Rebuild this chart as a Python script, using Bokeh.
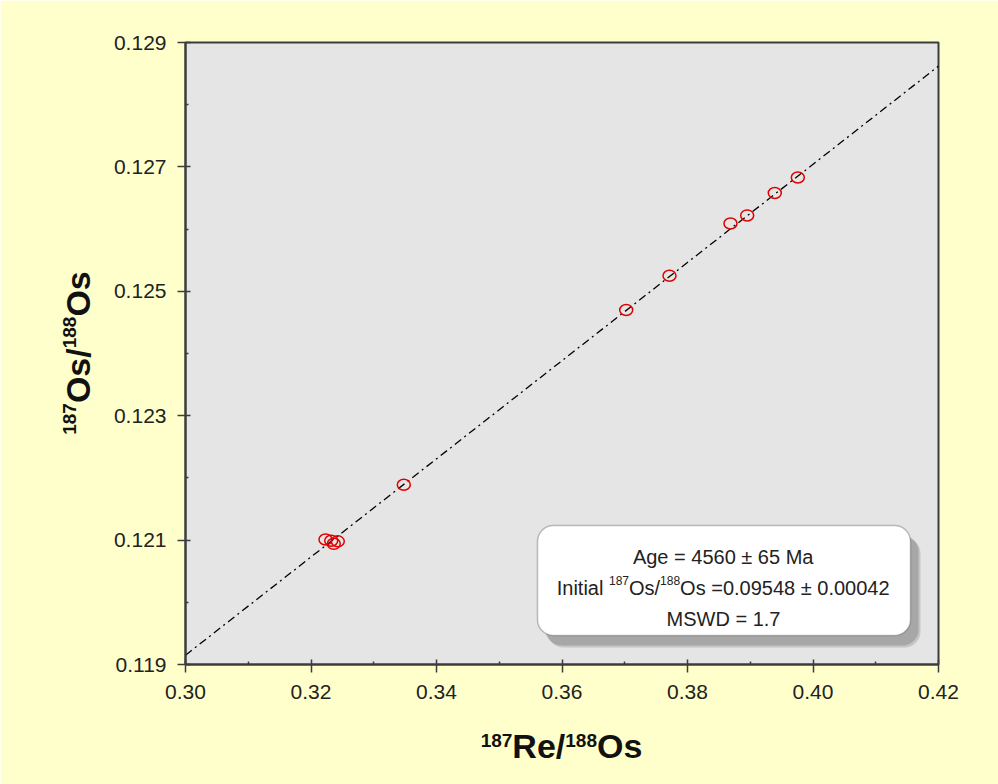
import math
from bokeh.plotting import figure
from bokeh.models import (Range1d, FixedTicker, NumeralTickFormatter,
                          BoxAnnotation, Label, LinearAxis)
from bokeh.embed import file_html
from bokeh.resources import INLINE

# ---- data ----
re_os = [0.32231, 0.32322, 0.32363, 0.32427, 0.33479, 0.37023, 0.37713,
         0.38685, 0.38951, 0.39391, 0.39758]
os_os = [0.12101, 0.12099, 0.12094, 0.12098, 0.12189, 0.12470, 0.12525,
         0.12609, 0.12622, 0.12658, 0.12683]
line_x = [0.30, 0.42]
line_y = [0.11915, 0.12862]
x_ticks = [0.30, 0.32, 0.34, 0.36, 0.38, 0.40, 0.42]
x_minor = [0.31, 0.33, 0.35, 0.37, 0.39, 0.41]
y_ticks = [0.119, 0.121, 0.123, 0.125, 0.127, 0.129]
y_minor = [0.120, 0.122, 0.124, 0.126, 0.128]
x_range = (0.30, 0.42)
y_range = (0.119, 0.129)
# axis titles as (text, is_superscript) runs
x_title = [("187", True), ("Re/", False), ("188", True), ("Os", False)]
y_title = [("187", True), ("Os/", False), ("188", True), ("Os", False)]

FONT = "Liberation Sans"
W, H = 998, 784
FL, FR, FT, FB = 185, 60, 42, 120   # borders around frame
FW, FH = W - FL - FR, H - FT - FB

p = figure(width=W, height=H, output_backend="svg", toolbar_location=None,
           x_range=Range1d(*x_range), y_range=Range1d(*y_range),
           min_border_left=FL, min_border_right=FR,
           min_border_top=FT, min_border_bottom=FB)
p.background_fill_color = "#E5E5E5"
p.border_fill_color = "#FFFFCC"
p.outline_line_color = "#3C3C3C"
p.outline_line_width = 2
p.grid.visible = False

p.xaxis.ticker = FixedTicker(ticks=x_ticks, minor_ticks=x_minor)
p.yaxis.ticker = FixedTicker(ticks=y_ticks, minor_ticks=y_minor)
p.xaxis.formatter = NumeralTickFormatter(format="0.00")
p.yaxis.formatter = NumeralTickFormatter(format="0.000")
for ax in (p.xaxis, p.yaxis):
    ax.axis_line_color = "#3C3C3C"
    ax.axis_line_width = 2
    ax.major_tick_line_color = "#3C3C3C"
    ax.minor_tick_line_color = "#3C3C3C"
    ax.major_tick_line_width = 1.5
    ax.minor_tick_line_width = 1.5
    ax.major_tick_in = 5
    ax.major_tick_out = 8
    ax.minor_tick_in = 3
    ax.minor_tick_out = 0
    ax.major_label_text_font = FONT
    ax.major_label_text_font_size = "21px"
    ax.major_label_text_color = "#222222"
p.xaxis.major_label_standoff = 12
p.yaxis.major_label_standoff = 11

p.line(line_x, line_y, line_color="black", line_width=1.3, line_dash="8 4 2 4")
p.ellipse(re_os, os_os, width=13, height=11, width_units="screen",
          height_units="screen", fill_color=None, line_color="#E00000",
          line_width=1.5)


# page px -> frame screen coords / data coords
def sx(px):
    return px - FL


def sy(py):
    return (FT + FH) - py


def dx(px):
    return round(x_range[0] + sx(px) / FW * (x_range[1] - x_range[0]), 6)


def dy(py):
    return round(y_range[0] + sy(py) / FH * (y_range[1] - y_range[0]), 7)


# text box with shadow
for off, col, a in [((10, 12), "#8a8a8a", 0.35), ((8, 10), "#8a8a8a", 0.5)]:
    p.add_layout(BoxAnnotation(left=dx(537 + off[0]), right=dx(910 + off[0]),
                               top=dy(525 + off[1]), bottom=dy(635 + off[1]),
                               fill_color=col, fill_alpha=a, line_color=None,
                               border_radius=16))
p.add_layout(BoxAnnotation(left=dx(537), right=dx(910), top=dy(525), bottom=dy(635),
                           fill_color="white", fill_alpha=1.0, line_color="#333333",
                           line_width=1.5, border_radius=16))

REG = {' ': 278, '.': 278, '/': 278, '=': 584, '±': 584, 'A': 667, 'M': 833,
       'S': 667, 'W': 944, 'D': 722, 'O': 778, 'I': 278, 'g': 556, 'e': 556,
       'a': 556, 'n': 556, 'i': 222, 't': 278, 'l': 222, 's': 500, 'R': 722}
BOLD = {' ': 278, '.': 278, '/': 278, 'R': 722, 'e': 556, 'O': 778, 's': 556}


def tw(s, size, bold=False):
    t = BOLD if bold else REG
    return sum(t.get(c, 556) for c in s) * size / 1000.0


def run(pieces, cx, base, color="#222222"):
    """pieces: list of (text, size, raise). cx: center of the run."""
    total = sum(tw(t, s) for t, s, _ in pieces)
    pos = cx - total / 2.0
    for t, s, r in pieces:
        p.add_layout(Label(x=pos, y=base + r, x_units="screen", y_units="screen",
                           text=t, text_font=FONT, text_font_size=f"{s}px",
                           text_color=color, text_align="left",
                           text_baseline="alphabetic"))
        pos += tw(t, s)


# box texts
BS, SS = 20, 12
cx_box = sx(723)
run([("Age = 4560 ± 65 Ma", BS, 0)], cx_box, sy(556))
run([("Initial ", BS, 0), ("187", SS, 7), ("Os/", BS, 0), ("188", SS, 7),
     ("Os =0.09548 ± 0.00042", BS, 0)], cx_box, sy(587))
run([("MSWD = 1.7", BS, 0)], cx_box, sy(618))

# axis titles: built from label-only axes (big letters + superscripts)
LS, LSS = 34, 19


def title_axes(runs, center_px, big_standoff, sup_standoff, vertical):
    total = sum(tw(t, LSS if sup else LS, True) for t, sup in runs)
    big, supd = {}, {}
    if vertical:
        pos = center_px + total / 2.0      # start at bottom, go upward
    else:
        pos = center_px - total / 2.0
    for t, sup in runs:
        w = tw(t, LSS if sup else LS, True)
        c = pos - w / 2.0 if vertical else pos + w / 2.0
        key = dy(c) if vertical else dx(c)
        (supd if sup else big)[key] = t
        pos = pos - w if vertical else pos + w
    axes = []
    for d, size, so in [(big, LS, big_standoff), (supd, LSS, sup_standoff)]:
        ax = LinearAxis(ticker=FixedTicker(ticks=sorted(d), minor_ticks=[]),
                        major_label_overrides=d)
        ax.axis_line_color = None
        ax.major_tick_line_color = None
        ax.minor_tick_line_color = None
        ax.major_tick_out = 0
        ax.major_tick_in = 0
        ax.major_label_standoff = so
        ax.major_label_text_font = FONT
        ax.major_label_text_font_size = f"{size}px"
        ax.major_label_text_font_style = "bold"
        ax.major_label_text_color = "#111111"
        if vertical:
            ax.major_label_orientation = "parallel"
        axes.append(ax)
    return axes


xb, xs = title_axes(x_title, 561, -23, 32, False)
p.add_layout(xs, "below")
p.add_layout(xb, "below")
yb, ys = title_axes(y_title, 352.5, 13, -20, True)
p.add_layout(yb, "left")
p.add_layout(ys, "left")

open("out.html", "w").write(file_html(p, INLINE))
